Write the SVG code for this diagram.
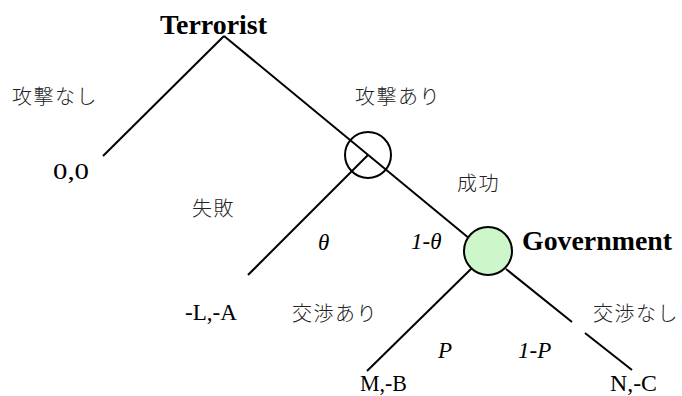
<svg xmlns="http://www.w3.org/2000/svg" width="682" height="396" viewBox="0 0 682 396">
<style>
.ln{stroke:#000;stroke-width:2;fill:none}
.jp{font-family:"Noto Sans CJK JP","Noto Sans CJK SC",sans-serif;font-size:20px;font-weight:300;fill:#222;letter-spacing:1.5px}
.sv{font-family:"Liberation Serif",serif;font-size:23px;fill:#000}
.it{font-family:"Liberation Serif",serif;font-size:23px;font-style:italic;fill:#000}
.pl{font-family:"Liberation Serif",serif;font-size:27px;font-weight:bold;fill:#000}
</style>
<rect width="682" height="396" fill="#fff"/>
<g id="connectors">
<line class="ln" x1="224" y1="36" x2="103" y2="156"/>
<line class="ln" x1="224" y1="36" x2="470" y2="239"/>
<line class="ln" x1="368" y1="155" x2="248" y2="275"/>
<line class="ln" x1="472" y1="268" x2="367" y2="371"/>
<line class="ln" x1="506" y1="269" x2="572" y2="322"/>
<line class="ln" x1="585" y1="333" x2="632" y2="370"/>
</g>
<g id="terrorist">
<text class="pl" x="160" y="34" textLength="107" lengthAdjust="spacingAndGlyphs">Terrorist</text>
</g>
<g id="chance">
<circle class="ln" cx="368" cy="155" r="23"/>
</g>
<g id="government">
<circle cx="488" cy="251" r="24" fill="#cdf7cb" stroke="#000" stroke-width="2"/>
<text class="pl" x="522" y="250" textLength="150" lengthAdjust="spacingAndGlyphs">Government</text>
</g>
<g id="labels">
<text class="jp" x="12" y="104">攻撃なし</text>
<text class="jp" x="355" y="104">攻撃あり</text>
<text class="jp" x="457" y="191">成功</text>
<text class="jp" x="192" y="216">失敗</text>
<text class="jp" x="292" y="321">交渉あり</text>
<text class="jp" x="593" y="321">交渉なし</text>
<text class="it" x="318" y="250">θ</text>
<text class="it" x="411" y="249">1-θ</text>
<text class="it" x="438" y="358">P</text>
<text class="it" x="518" y="358">1-P</text>
</g>
<g id="payoffs">
<text class="sv" x="53" y="179" textLength="36" lengthAdjust="spacingAndGlyphs">0,0</text>
<text class="sv" x="185" y="320" textLength="52" lengthAdjust="spacingAndGlyphs">-L,-A</text>
<text class="sv" x="360" y="391" textLength="47" lengthAdjust="spacingAndGlyphs">M,-B</text>
<text class="sv" x="610" y="391" textLength="47" lengthAdjust="spacingAndGlyphs">N,-C</text>
</g>
</svg>
